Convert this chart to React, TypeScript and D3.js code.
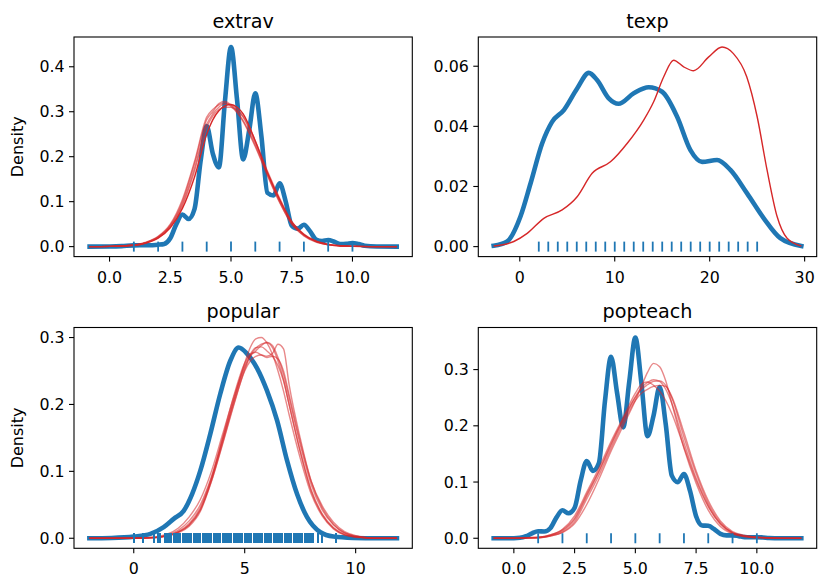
import React from "react";
import * as d3 from "d3";

const BLUE = "#1f77b4";
const RED = "#d62728";
const FONT = "'DejaVu Sans', sans-serif";

// ---------- extrav ----------
const extravObsX = [-0.82, 0, 0.5, 1, 1.5, 2, 2.25, 2.5, 2.75, 3, 3.25, 3.5, 3.75, 4, 4.25, 4.5, 4.75, 5, 5.25, 5.5, 5.75, 6, 6.25, 6.5, 6.75, 7, 7.25, 7.5, 7.75, 8, 8.25, 8.5, 8.75, 9, 9.25, 9.5, 9.75, 10, 10.25, 10.5, 11, 11.82];
const extravObsY = [0, 0.0004, 0.0012, 0.0028, 0.003, 0.0043, 0.006, 0.0186, 0.05, 0.0715, 0.0615, 0.084, 0.191, 0.268, 0.207, 0.176, 0.323, 0.444, 0.326, 0.194, 0.259, 0.341, 0.246, 0.1195, 0.1136, 0.141, 0.1008, 0.0468, 0.04, 0.0485, 0.0344, 0.0156, 0.0124, 0.0146, 0.0107, 0.0056, 0.0062, 0.008, 0.0056, 0.002, 0.0003, 0];
const extravImpX = [-0.83, 0, 1, 1.5, 2, 2.5, 3, 3.5, 4, 4.25, 4.5, 4.75, 5, 5.25, 5.5, 6, 6.5, 7, 7.5, 8, 8.5, 9, 9.5, 10, 11, 11.83];
const extravImp1 = [0, 0.0005, 0.003, 0.008, 0.019, 0.042, 0.085, 0.155, 0.25, 0.282, 0.302, 0.313, 0.316, 0.31, 0.295, 0.235, 0.165, 0.105, 0.055, 0.027, 0.012, 0.005, 0.002, 0.001, 0, 0];
const extravImp2 = [0, 0.0005, 0.003, 0.009, 0.022, 0.048, 0.1, 0.185, 0.282, 0.3, 0.318, 0.323, 0.315, 0.3, 0.28, 0.225, 0.16, 0.1, 0.05, 0.025, 0.011, 0.004, 0.0015, 0.0005, 0, 0];
const extravImp3 = [0, 0.0005, 0.003, 0.009, 0.021, 0.046, 0.095, 0.175, 0.272, 0.295, 0.31, 0.318, 0.315, 0.305, 0.288, 0.23, 0.163, 0.102, 0.053, 0.026, 0.011, 0.004, 0.0015, 0.0005, 0, 0];
const extravImp4 = [0, 0.0005, 0.003, 0.008, 0.02, 0.044, 0.09, 0.168, 0.265, 0.29, 0.305, 0.31, 0.31, 0.303, 0.29, 0.235, 0.168, 0.108, 0.056, 0.028, 0.012, 0.005, 0.002, 0.001, 0, 0];
const extravImp5 = [0, 0.0006, 0.0035, 0.01, 0.023, 0.05, 0.105, 0.19, 0.288, 0.305, 0.315, 0.32, 0.312, 0.298, 0.278, 0.222, 0.158, 0.098, 0.05, 0.024, 0.01, 0.004, 0.0015, 0.0005, 0, 0];
const extravRug = [1, 2, 3, 4, 5, 6, 7, 8, 9, 10];

// ---------- texp ----------
const texpObsX = [-2.75, -1.33, 0.07, 1.13, 2.35, 3.4, 4.64, 6.04, 7.27, 8.14, 9.37, 10.4, 12.0, 13.58, 14.99, 16.57, 17.97, 19.2, 20.78, 22.18, 23.94, 25.7, 27.44, 29.65];
const texpObsY = [0.0003, 0.0017, 0.01, 0.021, 0.0343, 0.0415, 0.0454, 0.0526, 0.0578, 0.0554, 0.0493, 0.0475, 0.051, 0.053, 0.0515, 0.0432, 0.0321, 0.0282, 0.0288, 0.0255, 0.0177, 0.0094, 0.0028, 0.0002];
const texpImpX = [-2.75, -0.63, 0.78, 2.53, 4.46, 6.04, 7.62, 9.55, 11.3, 13.05, 14.1, 15.16, 16.2, 17.26, 18.3, 19.9, 21.3, 22.5, 23.9, 25.0, 26.04, 27.1, 28.15, 29.65];
const texpImp1 = [0.0002, 0.0017, 0.0044, 0.0094, 0.0122, 0.0166, 0.0244, 0.0282, 0.0343, 0.0421, 0.0482, 0.0565, 0.062, 0.0598, 0.0585, 0.0631, 0.0664, 0.0642, 0.0565, 0.0432, 0.0255, 0.01, 0.0028, 0.0002];
const texpRug = [2, 3, 4, 5, 6, 7, 8, 9, 10, 11, 12, 13, 14, 15, 16, 17, 18, 19, 20, 21, 22, 23, 24, 25];

// ---------- popular ----------
const popularObsX = [-2.0, -1, 0, 0.75, 1.35, 1.8, 2.25, 2.63, 3.0, 3.45, 3.9, 4.36, 4.73, 5.1, 5.56, 6.0, 6.46, 6.91, 7.36, 7.81, 8.41, 9.0, 9.9, 11.0, 11.86];
const popularObsY = [0, 0.0005, 0.0025, 0.0065, 0.0165, 0.029, 0.041, 0.066, 0.101, 0.156, 0.216, 0.266, 0.285, 0.276, 0.254, 0.221, 0.176, 0.116, 0.066, 0.0315, 0.009, 0.0025, 0.0005, 0, 0];
const popularImpX = [-2.0, 0, 1, 1.5, 2, 2.5, 3, 3.5, 4, 4.5, 5, 5.25, 5.5, 5.75, 6, 6.25, 6.5, 6.75, 7, 7.5, 8, 8.5, 9, 9.5, 10, 10.5, 11, 11.86];
const popularImp1 = [0, 0, 0.001, 0.004, 0.009, 0.02, 0.043, 0.088, 0.145, 0.205, 0.262, 0.285, 0.298, 0.3, 0.292, 0.275, 0.25, 0.22, 0.185, 0.12, 0.066, 0.033, 0.014, 0.005, 0.0015, 0.0005, 0, 0];
const popularImp2 = [0, 0, 0.0015, 0.005, 0.012, 0.026, 0.05, 0.092, 0.148, 0.205, 0.255, 0.272, 0.28, 0.288, 0.293, 0.288, 0.27, 0.245, 0.21, 0.14, 0.08, 0.042, 0.02, 0.008, 0.003, 0.001, 0, 0];
const popularImp3 = [0, 0, 0.001, 0.003, 0.008, 0.018, 0.04, 0.085, 0.142, 0.2, 0.25, 0.265, 0.272, 0.274, 0.272, 0.276, 0.29, 0.283, 0.23, 0.15, 0.085, 0.045, 0.021, 0.008, 0.003, 0.001, 0, 0];
const popularImp4 = [0, 0, 0.002, 0.006, 0.015, 0.032, 0.058, 0.1, 0.155, 0.21, 0.258, 0.275, 0.285, 0.286, 0.28, 0.272, 0.258, 0.235, 0.2, 0.13, 0.072, 0.036, 0.016, 0.006, 0.002, 0.0005, 0, 0];
const popularImp5 = [0, 0, 0.0015, 0.004, 0.01, 0.022, 0.046, 0.09, 0.15, 0.212, 0.262, 0.275, 0.278, 0.274, 0.27, 0.272, 0.268, 0.25, 0.215, 0.145, 0.085, 0.048, 0.024, 0.01, 0.004, 0.001, 0, 0];
const popularImp6 = [0, 0, 0.001, 0.0035, 0.009, 0.02, 0.042, 0.085, 0.14, 0.198, 0.252, 0.272, 0.284, 0.29, 0.292, 0.285, 0.265, 0.237, 0.2, 0.13, 0.07, 0.035, 0.015, 0.005, 0.002, 0.0005, 0, 0];
const popularRug = [
  0.0, 0.4, 0.9, 1.1, 1.2, 1.4,
  1.5, 1.6, 1.7, 1.8, 1.9, 2.0, 2.1, 2.2, 2.3, 2.4, 2.5, 2.6, 2.7, 2.8, 2.9,
  3.0, 3.1, 3.2, 3.3, 3.4, 3.5, 3.6, 3.7, 3.8, 3.9, 4.0, 4.1, 4.2, 4.3, 4.4,
  4.5, 4.6, 4.7, 4.8, 4.9, 5.0, 5.1, 5.2, 5.3, 5.4, 5.5, 5.6, 5.7, 5.8, 5.9,
  6.0, 6.1, 6.2, 6.3, 6.4, 6.5, 6.6, 6.7, 6.8, 6.9, 7.0, 7.1, 7.2, 7.3, 7.4,
  7.5, 7.6, 7.7, 7.8, 7.9, 8.0, 8.1, 8.3, 8.5, 9.1,
];

// ---------- popteach ----------
const popteachObsX = [-0.83, 0, 0.25, 0.5, 0.75, 1, 1.25, 1.5, 1.75, 2, 2.25, 2.5, 2.75, 3, 3.25, 3.5, 3.75, 4, 4.25, 4.5, 4.75, 5, 5.25, 5.5, 5.75, 6, 6.25, 6.5, 6.75, 7, 7.25, 7.5, 7.75, 8, 8.25, 8.5, 8.75, 9, 9.25, 9.5, 9.75, 10, 10.25, 10.5, 11, 11.83];
const popteachObsY = [0, 0.0001, 0.0008, 0.0036, 0.0089, 0.0125, 0.012, 0.0179, 0.0367, 0.0497, 0.0444, 0.054, 0.1026, 0.1374, 0.1198, 0.1338, 0.2441, 0.3228, 0.2579, 0.1973, 0.2788, 0.357, 0.2754, 0.1815, 0.2183, 0.269, 0.2031, 0.1114, 0.0997, 0.1144, 0.0842, 0.0393, 0.0228, 0.0221, 0.016, 0.0077, 0.0051, 0.0052, 0.0038, 0.002, 0.0017, 0.0019, 0.0014, 0.0006, 0.0001, 0];
const popteachImpX = [-0.83, 0, 1, 1.5, 2, 2.5, 3, 3.5, 4, 4.5, 5, 5.25, 5.5, 5.75, 6, 6.25, 6.5, 7, 7.5, 8, 8.5, 9, 9.5, 10, 10.5, 11, 11.83];
const popteachImp1 = [0, 0, 0.001, 0.004, 0.01, 0.026, 0.06, 0.105, 0.155, 0.2, 0.245, 0.27, 0.295, 0.311, 0.305, 0.28, 0.24, 0.16, 0.098, 0.05, 0.021, 0.008, 0.003, 0.001, 0.0005, 0, 0];
const popteachImp2 = [0, 0.0003, 0.002, 0.006, 0.016, 0.04, 0.082, 0.125, 0.172, 0.215, 0.258, 0.274, 0.278, 0.272, 0.262, 0.245, 0.222, 0.162, 0.103, 0.056, 0.026, 0.01, 0.004, 0.002, 0.0008, 0.0002, 0];
const popteachImp3 = [0, 0.0002, 0.001, 0.005, 0.013, 0.033, 0.075, 0.118, 0.165, 0.21, 0.25, 0.265, 0.273, 0.279, 0.28, 0.272, 0.25, 0.18, 0.115, 0.062, 0.028, 0.01, 0.004, 0.002, 0.0008, 0.0002, 0];
const popteachImp4 = [0, 0.0002, 0.001, 0.004, 0.011, 0.029, 0.07, 0.112, 0.16, 0.205, 0.245, 0.258, 0.265, 0.27, 0.272, 0.27, 0.252, 0.188, 0.12, 0.067, 0.031, 0.012, 0.005, 0.002, 0.0008, 0.0002, 0];
const popteachImp5 = [0, 0.0003, 0.002, 0.006, 0.015, 0.036, 0.078, 0.12, 0.168, 0.212, 0.252, 0.268, 0.277, 0.282, 0.279, 0.265, 0.24, 0.17, 0.107, 0.058, 0.025, 0.009, 0.003, 0.001, 0.0005, 0, 0];
const popteachRug = [1, 2, 3, 4, 5, 6, 7, 8, 9, 10];

// ---------- tick labels ----------
const ticksScale10 = [0, 2.5, 5, 7.5, 10];
const ticksTexpX = [0, 10, 20, 30];
const ticksPopularX = [0, 5, 10];
const ticksExtravY = [0, 0.1, 0.2, 0.3, 0.4];
const ticksTexpY = [0, 0.02, 0.04, 0.06];
const ticksPopY = [0, 0.1, 0.2, 0.3];

type Curve = { xs: number[]; ys: number[] };

interface PanelSpec {
  title: string;
  box: [number, number, number, number];
  observed: Curve;
  imputed: Curve[];
  strong: number;
  rug: number[];
  rugCrisp: boolean;
  xTicks: number[];
  xFmt: string;
  yTicks: number[];
  yFmt: string;
  ylabel?: string;
}

const COLS: [number, number][] = [[74, 412.3], [478.3, 816.7]];
const ROWS: [number, number][] = [[37, 256.6], [327.5, 548.3]];

const panels: PanelSpec[] = [
  {
    title: "extrav",
    box: [COLS[0][0], ROWS[0][0], COLS[0][1], ROWS[0][1]],
    observed: { xs: extravObsX, ys: extravObsY },
    imputed: [extravImp2, extravImp3, extravImp4, extravImp5, extravImp1].map((ys) => ({ xs: extravImpX, ys })),
    strong: 4,
    rug: extravRug,
    rugCrisp: false,
    xTicks: ticksScale10,
    xFmt: ".1f",
    yTicks: ticksExtravY,
    yFmt: ".1f",
    ylabel: "Density",
  },
  {
    title: "texp",
    box: [COLS[1][0], ROWS[0][0], COLS[1][1], ROWS[0][1]],
    observed: { xs: texpObsX, ys: texpObsY },
    imputed: [{ xs: texpImpX, ys: texpImp1 }],
    strong: 0,
    rug: texpRug,
    rugCrisp: false,
    xTicks: ticksTexpX,
    xFmt: "d",
    yTicks: ticksTexpY,
    yFmt: ".2f",
  },
  {
    title: "popular",
    box: [COLS[0][0], ROWS[1][0], COLS[0][1], ROWS[1][1]],
    observed: { xs: popularObsX, ys: popularObsY },
    imputed: [popularImp1, popularImp2, popularImp3, popularImp4, popularImp5, popularImp6].map((ys) => ({ xs: popularImpX, ys })),
    strong: -1,
    rug: popularRug,
    rugCrisp: true,
    xTicks: ticksPopularX,
    xFmt: "d",
    yTicks: ticksPopY,
    yFmt: ".1f",
    ylabel: "Density",
  },
  {
    title: "popteach",
    box: [COLS[1][0], ROWS[1][0], COLS[1][1], ROWS[1][1]],
    observed: { xs: popteachObsX, ys: popteachObsY },
    imputed: [popteachImp1, popteachImp2, popteachImp3, popteachImp4, popteachImp5].map((ys) => ({ xs: popteachImpX, ys })),
    strong: -1,
    rug: popteachRug,
    rugCrisp: false,
    xTicks: ticksScale10,
    xFmt: ".1f",
    yTicks: ticksPopY,
    yFmt: ".1f",
  },
];

const TICK_FS = 15.8;
const LABEL_FS = 16;
const TITLE_FS = 19.2;

function Panel({ spec }: { spec: PanelSpec }) {
  const [l, t, r, b] = spec.box;
  const curves = [spec.observed, ...spec.imputed];
  const allX = curves.flatMap((c) => c.xs);
  const allY = curves.flatMap((c) => c.ys);
  const [x0, x1] = d3.extent(allX) as [number, number];
  const yMax = d3.max(allY) as number;
  const xPad = (x1 - x0) * 0.05;
  const yPad = yMax * 0.05;
  const x = d3.scaleLinear().domain([x0 - xPad, x1 + xPad]).range([l, r]);
  const y = d3.scaleLinear().domain([-yPad, yMax + yPad]).range([b, t]);
  const line = d3
    .line<[number, number]>()
    .x((d) => x(d[0]))
    .y((d) => y(d[1]))
    .curve(d3.curveMonotoneX);
  const path = (c: Curve) => line(d3.zip(c.xs, c.ys) as [number, number][]) ?? "";
  const fx = d3.format(spec.xFmt);
  const fy = d3.format(spec.yFmt);
  const y0 = y(0);

  return (
    <g>
      <path d={path(spec.observed)} fill="none" stroke={BLUE} strokeWidth={4.6} strokeLinejoin="round" strokeLinecap="square" />
      {spec.imputed.map((c, i) => (
        <path
          key={i}
          d={path(c)}
          fill="none"
          stroke={RED}
          strokeWidth={1.4}
          strokeOpacity={i === spec.strong ? 1 : 0.55}
          strokeLinejoin="round"
        />
      ))}
      <g shapeRendering={spec.rugCrisp ? "crispEdges" : undefined}>
        {spec.rug.map((v, i) => (
          <line key={i} x1={x(v)} x2={x(v)} y1={y0 - 5} y2={y0 + 5} stroke={BLUE} strokeWidth={spec.rugCrisp ? 2 : 1.8} />
        ))}
      </g>
      <rect x={l} y={t} width={r - l} height={b - t} fill="none" stroke="#000" strokeWidth={1.1} />
      {spec.xTicks.map((v) => (
        <g key={"x" + v}>
          <line x1={x(v)} x2={x(v)} y1={b} y2={b + 5} stroke="#000" strokeWidth={1.1} />
          <text x={x(v)} y={b + 26} textAnchor="middle" fontSize={TICK_FS} fontFamily={FONT} fill="#000">
            {fx(v)}
          </text>
        </g>
      ))}
      {spec.yTicks.map((v) => (
        <g key={"y" + v}>
          <line x1={l - 5} x2={l} y1={y(v)} y2={y(v)} stroke="#000" strokeWidth={1.1} />
          <text x={l - 9.5} y={y(v) + TICK_FS * 0.36} textAnchor="end" fontSize={TICK_FS} fontFamily={FONT} fill="#000">
            {fy(v)}
          </text>
        </g>
      ))}
      <text x={(l + r) / 2} y={t - 9.5} textAnchor="middle" fontSize={TITLE_FS} fontFamily={FONT} fill="#000">
        {spec.title}
      </text>
      {spec.ylabel && (
        <text
          transform={`translate(${23},${(t + b) / 2}) rotate(-90)`}
          textAnchor="middle"
          fontSize={LABEL_FS}
          fontFamily={FONT}
          fill="#000"
        >
          {spec.ylabel}
        </text>
      )}
    </g>
  );
}

export default function App() {
  return (
    <svg
      width={827}
      height={588}
      viewBox="0 0 827 588"
      style={{ position: "absolute", left: 0, top: 0, background: "#fff" }}
    >
      <rect width={827} height={588} fill="#fff" />
      {panels.map((p) => (
        <Panel key={p.title} spec={p} />
      ))}
    </svg>
  );
}
